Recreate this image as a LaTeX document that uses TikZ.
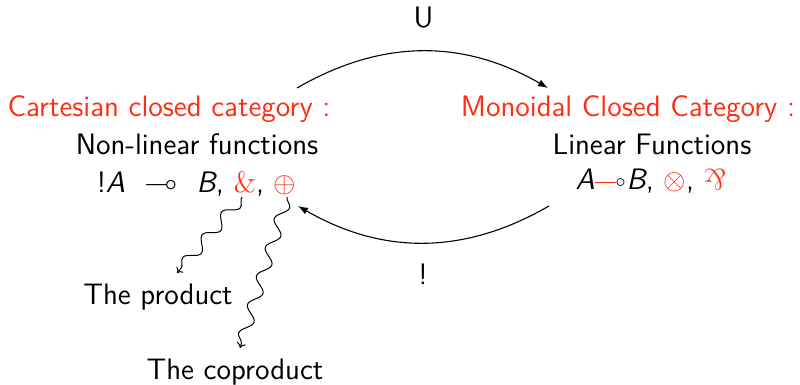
\documentclass[tikz,border=0pt]{standalone}
\usepackage{amssymb}
\usepackage{graphicx}
\usetikzlibrary{arrows.meta,decorations.pathmorphing}
\renewcommand{\familydefault}{\sfdefault}
\definecolor{hred}{RGB}{255,45,20}
\begin{document}
\begin{tikzpicture}[x=0.5pt,y=-0.5pt,
  lab/.style={font=\fontsize{14.8}{17}\selectfont, anchor=base, inner sep=0pt},
  bendarrow/.style={line width=0.55pt, -{Latex[length=5pt,width=3.6pt]}, bend left=30},
  squig/.style={line width=0.5pt, -{To[length=2.5pt,width=4.5pt]}, decorate,
    decoration={snake, amplitude=2.9pt, segment length=15pt, post length=2pt}}
]
\useasboundingbox (0,0) rectangle (800,385);
% labels
\node[lab] (U) at (423.5,28) {U};
\node[lab] (bang) at (423,285) {!};
% left block
\node[lab, text=hred] (cc) at (169,117) {Cartesian closed category :};
\node[lab] (nl) at (197,155) {Non-linear functions};
\node[lab] (lf) at (196.5,193)
  {!\textit{A}~~$\multimap$~~\textit{B}, \textcolor{hred}{\rmfamily\&}, $\textcolor{hred}{\oplus}$};
% right block
\node[lab, text=hred] (mc) at (628,117) {Monoidal Closed Category :};
\node[lab] (lin) at (652,155) {Linear Functions};
\node[lab] (rf) at (651,190)
  {\textit{A}\kern0.3pt\textcolor{hred}{\rule[3.4pt]{10.5pt}{0.6pt}}\kern-0.4pt\raisebox{1pt}{$\scriptstyle\circ$}\kern0.5pt\textit{B}, $\textcolor{hred}{\otimes}$, \textcolor{hred}{\rotatebox[origin=c]{180}{\rmfamily\&}}};
% bottom labels
\node[lab] (prod) at (158,305) {The product};
\node[lab] (coprod) at (235,380) {The coproduct};
% connector ends
\coordinate (amp) at (242,197);
\coordinate (oplus) at (287,197);
\coordinate (pe) at (177,273);
\coordinate (ce) at (240,348);
\coordinate (t1) at (297,88);
\coordinate (t2) at (548,88);
\coordinate (b1) at (549,206);
\coordinate (b2) at (298,206);
% connectors
\draw[bendarrow] (t1) to (t2);
\draw[bendarrow] (b1) to (b2);
\draw[squig] (amp) -- (pe);
\draw[squig] (oplus) -- (ce);
\end{tikzpicture}
\end{document}
